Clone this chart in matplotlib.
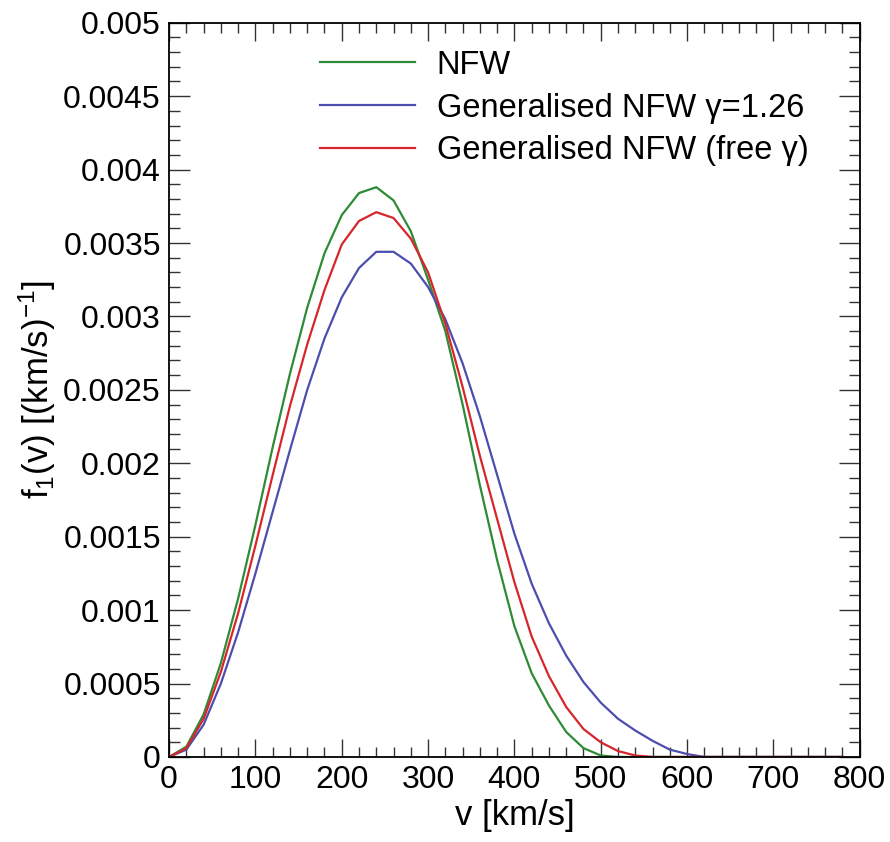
import numpy as np
import matplotlib.pyplot as plt
from matplotlib.ticker import MultipleLocator, FixedLocator, FixedFormatter

plt.rcParams['font.family'] = ['Liberation Sans', 'DejaVu Sans']
plt.rcParams['mathtext.fontset'] = 'custom'
plt.rcParams['mathtext.rm'] = 'Liberation Sans'
plt.rcParams['mathtext.it'] = 'Liberation Sans'

# speed grid [km/s] and speed distributions f1(v)
v = [0, 20, 40, 60, 80, 100, 120, 140, 160, 180, 200, 220, 240, 260, 280,
     300, 320, 340, 360, 380, 400, 420, 440, 460, 480, 500, 520, 540, 560,
     580, 600, 620, 640, 660, 680, 700, 720, 740, 760, 780]

f_nfw = [0, 0.00007, 0.00029, 0.00064, 0.00108, 0.00158, 0.00211, 0.00261,
         0.00306, 0.00343, 0.00369, 0.00384, 0.00388, 0.00379, 0.00358,
         0.00325, 0.00290, 0.00240, 0.00185, 0.00134, 0.00089, 0.00057,
         0.00035, 0.00017, 0.00006, 0.00001, 0, 0, 0, 0, 0, 0, 0, 0, 0, 0,
         0, 0, 0, 0]

f_gnfw = [0, 0.00005, 0.00022, 0.00050, 0.00085, 0.00125, 0.00167, 0.00209,
          0.00250, 0.00285, 0.00313, 0.00333, 0.00344, 0.00344, 0.00336,
          0.00320, 0.00298, 0.00268, 0.00232, 0.00192, 0.00152, 0.00118,
          0.00091, 0.00069, 0.00051, 0.00037, 0.00026, 0.00018, 0.00011,
          0.00005, 0.00002, 0, 0, 0, 0, 0, 0, 0, 0, 0]

f_free = [0, 0.00006, 0.00026, 0.00058, 0.00098, 0.00144, 0.00192, 0.00239,
          0.00281, 0.00318, 0.00349, 0.00365, 0.00371, 0.00367, 0.00353,
          0.00330, 0.00295, 0.00252, 0.00205, 0.00162, 0.00119, 0.00082,
          0.00055, 0.00034, 0.00019, 0.00010, 0.00004, 0.00001, 0, 0, 0, 0,
          0, 0, 0, 0, 0, 0, 0, 0]

labels = ['NFW', 'Generalised NFW γ=1.26', 'Generalised NFW (free γ)']
colors = ['#2e8b35', '#4d4db0', '#d6262b']

y_ticks = [0, 0.0005, 0.001, 0.0015, 0.002, 0.0025, 0.003, 0.0035, 0.004,
           0.0045, 0.005]
y_ticklabels = ['0', '0.0005', '0.001', '0.0015', '0.002', '0.0025', '0.003',
                '0.0035', '0.004', '0.0045', '0.005']

fig = plt.figure(figsize=(8.9, 8.42), dpi=100)
ax = fig.add_axes([0.190, 0.101, 0.776, 0.872])

for f, lab, c in zip([f_nfw, f_gnfw, f_free], labels, colors):
    ax.plot(v, f, color=c, lw=1.6, label=lab)

ax.set_xlim(0, 800)
ax.set_ylim(0, 0.005)

ax.xaxis.set_major_locator(MultipleLocator(100))
ax.xaxis.set_minor_locator(MultipleLocator(20))
ax.yaxis.set_major_locator(FixedLocator(y_ticks))
ax.yaxis.set_major_formatter(FixedFormatter(y_ticklabels))
ax.yaxis.set_minor_locator(MultipleLocator(0.0001))

ax.tick_params(which='both', direction='in', top=True, right=True,
               labelsize=23, width=1.0, color='#333333')
ax.tick_params(axis='x', which='major', length=13, pad=6)
ax.tick_params(axis='x', which='minor', length=7)
ax.tick_params(axis='y', which='major', length=15, pad=6)
ax.tick_params(axis='y', which='minor', length=8)
for s in ax.spines.values():
    s.set_linewidth(1.3)

ax.set_xlabel('v [km/s]', fontsize=25, labelpad=3)
ax.set_ylabel('f$_1$(v) [(km/s)$^{-1}$]', fontsize=25, labelpad=4)

ax.legend(loc='upper left', bbox_to_anchor=(0.176, 1.003), frameon=False,
          fontsize=23.5, handlelength=2.9, handletextpad=0.67,
          labelspacing=0.36)

fig.savefig('out.png', dpi=100)
